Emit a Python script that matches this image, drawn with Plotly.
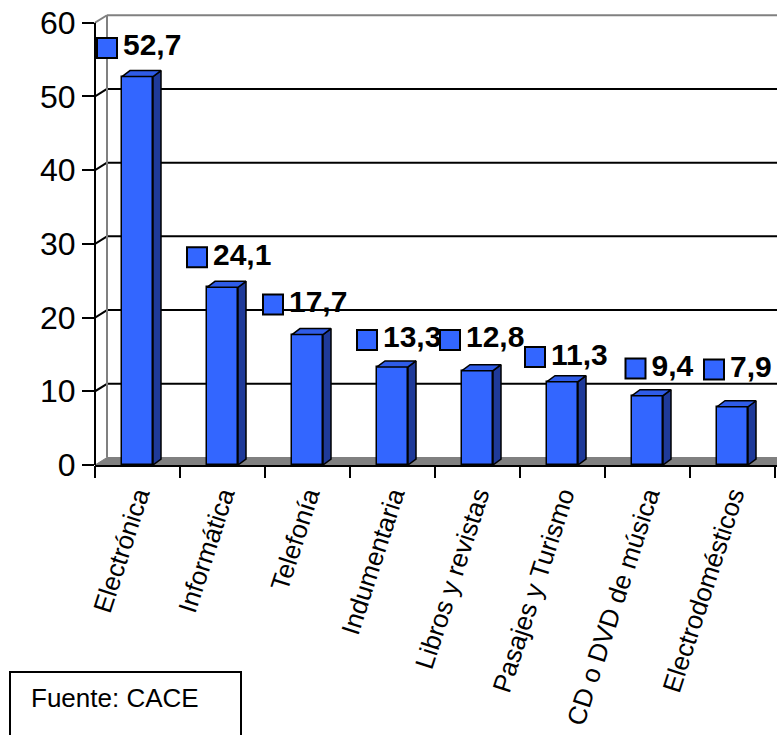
import plotly.graph_objects as go

# ---- data ----
categories = [
    "Electrónica", "Informática", "Telefonía", "Indumentaria",
    "Libros y revistas", "Pasajes y Turismo", "CD o DVD de música",
    "Electrodomésticos",
]
values = [52.7, 24.1, 17.7, 13.3, 12.8, 11.3, 9.4, 7.9]
y_tick_values = [0, 10, 20, 30, 40, 50, 60]
source_text = "Fuente: CACE"

value_labels = [f"{v:.1f}".replace(".", ",") for v in values]

# ---- layout geometry (pixels) ----
W, H = 777, 735
ML, MR, MT, MB = 95, 0, 8, 270
PLOT_W = W - ML - MR
PLOT_H = H - MT - MB
PX_PER_CAT = 85.0
X_MIN = -0.5
X_MAX = X_MIN + PLOT_W / PX_PER_CAT
Y_MAX = 62.0
PX_PER_UNIT = PLOT_H / Y_MAX
Y_TOP = 60
FONT = "Arial, Liberation Sans, sans-serif"


def ux(px):
    return px / PX_PER_CAT


def uy(px):
    return px / PX_PER_UNIT


def paper_x(px):
    return (px - ML) / PLOT_W


def paper_y(py):
    return (H - MB - py) / PLOT_H


# depth of the 3-D box and of each column
WALL_DX, WALL_DY = ux(12), uy(7.5)
BAR_DX, BAR_DY = ux(8), uy(6)
BAR_W = ux(31)

FRONT = "#3366FF"
TOP = "#2F5CE8"
SIDE = "#1F3A99"
GREY = "#808080"

# per-label placement of the value badges (pixel offsets from the column top)
label_shift_x = [-30.5, -25.5, -34.5, -25.5, -27.5, -27.5, -12, -18.5]
label_shift_y = [28.6, 30, 30, 27, 30.7, 24.7, 27.2, 37.3]

idx = list(range(len(categories)))

fig = go.Figure()

# ---- back wall, side-wall grid, floor ----
shapes = []
wx0 = X_MIN + WALL_DX
shapes.append(dict(type="rect", xref="x", yref="y", x0=wx0, x1=X_MAX + 1,
                   y0=WALL_DY, y1=Y_TOP + WALL_DY, fillcolor="white",
                   line=dict(width=0), layer="below"))
for v in y_tick_values[1:-1]:
    shapes.append(dict(type="line", xref="x", yref="y", x0=wx0, x1=X_MAX + 1,
                       y0=v + WALL_DY, y1=v + WALL_DY,
                       line=dict(color="black", width=2), layer="below"))
    shapes.append(dict(type="line", xref="x", yref="y", x0=X_MIN, x1=wx0,
                       y0=v, y1=v + WALL_DY,
                       line=dict(color="black", width=2), layer="below"))
# grey outline of the wall
shapes.append(dict(type="line", xref="x", yref="y", x0=wx0, x1=wx0,
                   y0=WALL_DY, y1=Y_TOP + WALL_DY,
                   line=dict(color=GREY, width=2), layer="below"))
shapes.append(dict(type="line", xref="x", yref="y", x0=wx0, x1=X_MAX + 1,
                   y0=Y_TOP + WALL_DY, y1=Y_TOP + WALL_DY,
                   line=dict(color=GREY, width=2), layer="below"))
shapes.append(dict(type="line", xref="x", yref="y", x0=X_MIN, x1=wx0,
                   y0=Y_TOP, y1=Y_TOP + WALL_DY,
                   line=dict(color=GREY, width=2), layer="below"))
# floor
shapes.append(dict(type="path", xref="x", yref="y",
                   path=(f"M {X_MIN},0 L {X_MAX + 1},0 L {X_MAX + 1 + WALL_DX},{WALL_DY} "
                         f"L {wx0},{WALL_DY} Z"),
                   fillcolor=GREY, line=dict(color=GREY, width=1), layer="below"))
# front vertical axis line (0 .. 60)
shapes.append(dict(type="line", xref="paper", yref="paper", x0=0, x1=0,
                   y0=0, y1=Y_TOP / Y_MAX, line=dict(color="black", width=2)))
# source box
shapes.append(dict(type="rect", xref="paper", yref="paper",
                   x0=paper_x(10), x1=paper_x(241), y0=paper_y(672), y1=paper_y(760),
                   line=dict(color="black", width=2), fillcolor="white"))

# ---- columns: front faces ----
fig.add_trace(go.Bar(
    x=idx, y=values, width=BAR_W,
    marker=dict(color=FRONT, line=dict(color="black", width=1.5)),
    hoverinfo="skip", showlegend=False,
))

# ---- columns: side and top faces ----
for i, v in zip(idx, values):
    xl, xr = i - BAR_W / 2, i + BAR_W / 2
    fig.add_trace(go.Scatter(
        x=[xr, xr + BAR_DX, xr + BAR_DX, xr, xr],
        y=[0, BAR_DY, v + BAR_DY, v, 0],
        mode="lines", fill="toself", fillcolor=SIDE,
        line=dict(color="black", width=1.5), hoverinfo="skip", showlegend=False,
    ))
    fig.add_trace(go.Scatter(
        x=[xl, xr, xr + BAR_DX, xl + BAR_DX, xl],
        y=[v, v, v + BAR_DY, v + BAR_DY, v],
        mode="lines", fill="toself", fillcolor=TOP,
        line=dict(color="black", width=1.5), hoverinfo="skip", showlegend=False,
    ))

# ---- value badges ----
fig.add_trace(go.Scatter(
    x=[i + ux(sx) for i, sx in zip(idx, label_shift_x)],
    y=[v + uy(sy) for v, sy in zip(values, label_shift_y)],
    mode="markers+text",
    marker=dict(symbol="square", size=20, color=FRONT,
                line=dict(color="black", width=2)),
    text=["\u200a" + t for t in value_labels], textposition="middle right",
    textfont=dict(family=FONT, size=30, color="black", weight="bold"),
    cliponaxis=False, hoverinfo="skip", showlegend=False,
))

# invisible trace carrying the boundary tick axis
fig.add_trace(go.Scatter(x=[0], y=[0], xaxis="x2", mode="markers",
                         marker=dict(opacity=0), hoverinfo="skip", showlegend=False))

fig.add_annotation(xref="paper", yref="paper", x=paper_x(29), y=paper_y(698),
                   xanchor="left", yanchor="middle", showarrow=False,
                   text=source_text,
                   font=dict(family=FONT, size=26, color="black"))

fig.update_layout(
    width=W, height=H,
    margin=dict(l=ML, r=MR, t=MT, b=MB, pad=0),
    paper_bgcolor="white", plot_bgcolor="white",
    shapes=shapes,
    bargap=0,
    xaxis=dict(range=[X_MIN, X_MAX], tickvals=idx, ticktext=categories,
               tickangle=-72, ticks="", showgrid=False, zeroline=False,
               showline=True, linecolor="black", linewidth=2,
               ticklabelstandoff=3,
               tickfont=dict(family=FONT, size=26, color="black")),
    xaxis2=dict(range=[X_MIN, X_MAX], overlaying="x", anchor="y", side="bottom",
                tickvals=[i - 0.5 for i in range(len(categories) + 1)],
                ticks="outside", ticklen=12, tickwidth=2, tickcolor="black",
                showticklabels=False, showgrid=False, zeroline=False, showline=False),
    yaxis=dict(range=[0, Y_MAX], tickvals=y_tick_values,
               ticks="outside", ticklen=12, tickwidth=2, tickcolor="black",
               showgrid=False, zeroline=False, showline=False,
               tickfont=dict(family=FONT, size=32, color="black")),
)

fig.write_html("out.html")
